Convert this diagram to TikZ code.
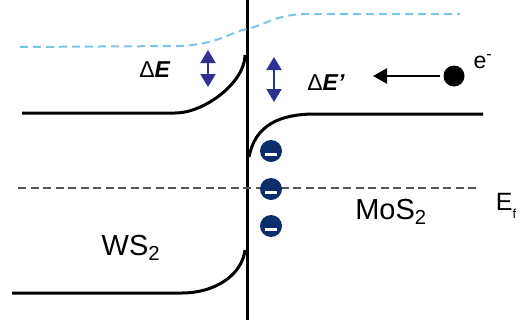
\documentclass[tikz,border=0pt]{standalone}
\usepackage{fontspec}
\setmainfont{Liberation Sans}
\usetikzlibrary{arrows.meta,calc}
\definecolor{vacblue}{HTML}{7CC4E8}
\definecolor{arrowblue}{HTML}{2E3192}
\definecolor{chargenavy}{HTML}{0B2E6B}
\definecolor{fermigray}{HTML}{555555}
\tikzset{
  band/.style={line width=3pt, black},
  vacuum/.style={line width=2pt, vacblue, dash pattern=on 8pt off 5pt},
  fermi/.style={line width=1.3pt, fermigray, dash pattern=on 8pt off 4.5pt},
  gap/.style={line width=2pt, arrowblue, {Triangle[width=15pt,length=13pt]}-{Triangle[width=15pt,length=13pt]}},
  charge/.style={circle, fill=chargenavy, minimum size=22pt, inner sep=0pt},
  matlabel/.style={font=\fontsize{29}{31}\selectfont, inner sep=0pt},
  smalllabel/.style={font=\fontsize{23}{26}\selectfont, inner sep=0pt},
}
\begin{document}
\begin{tikzpicture}[x=1pt, y=-1pt]
\useasboundingbox (0,0) rectangle (522,327);

% interface
\draw[band, line width=3pt] (247,0) -- (247,320);

% vacuum level (dashed light blue)
\draw[vacuum] (20,47) -- (180,46) .. controls (220,44) and (230,32) .. (247,29)
  .. controls (265,25) and (277,14) .. (307,14) -- (460,14);

% WS2 conduction band bending up at the interface
\draw[band] (22,113) -- (175,113) .. controls (205,113) and (245,82) .. (245,55);
% MoS2 conduction band bending down at the interface
\draw[band] (249,157) .. controls (255,125) and (280,114) .. (315,114) -- (483,114);
% WS2 valence band
\draw[band] (12,293) -- (182,293) .. controls (215,293) and (242,275) .. (245,250);

% Fermi level
\draw[fermi] (18,188) -- (480,188);

% band offsets
\coordinate (dEtop) at (208,50);
\coordinate (dEbot) at (208,87);
\coordinate (dEptop) at (274,57);
\coordinate (dEpbot) at (274,102);
\draw[gap] (dEtop) -- (dEbot);
\draw[gap] (dEptop) -- (dEpbot);

\node[smalllabel] (dE) at (155,70) {Δ\textbf{\textit{E}}};
\node[smalllabel] (dEp) at (326,83) {Δ\textbf{\textit{E’}}};

% incoming electron
\node[circle, fill=black, minimum size=21pt, inner sep=0pt] (el) at (454,76) {};
\coordinate (eltip) at (373,76);
\draw[line width=2pt, -{Triangle[width=15pt,length=14pt]}] ($(el.west)+(-3,0)$) -- (eltip);
\node[smalllabel] (elabel) at (483,62) {e\textsuperscript{-}};

% accumulated negative charges
\foreach \n/\yy in {c1/151, c2/189, c3/226} {
  \node[charge] (\n) at (271,\yy) {};
  \fill[white] ($(\n)+(-6,1.5)$) rectangle ($(\n)+(6,4.8)$);
}

% labels
\node[matlabel] (mos2) at (391,212) {MoS\textsubscript{2}};
\node[matlabel] (ws2) at (131,248) {WS\textsubscript{2}};
\node[font=\fontsize{25}{28}\selectfont, inner sep=0pt] (ef) at (506,206) {E\raisebox{-0.35em}{\fontsize{13}{14}\selectfont f}};
\end{tikzpicture}
\end{document}
